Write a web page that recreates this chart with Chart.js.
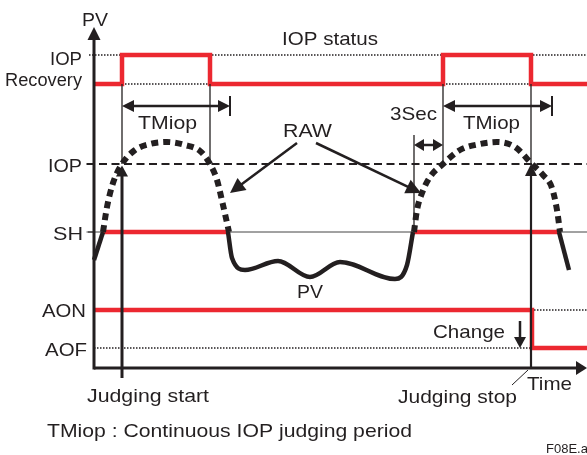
<!DOCTYPE html>
<html><head><meta charset="utf-8">
<script src="https://cdn.jsdelivr.net/npm/chart.js@4/dist/chart.umd.min.js"></script>
<style>html,body{margin:0;padding:0;background:#fff;overflow:hidden}canvas{display:block}</style>
</head><body>
<canvas id="c" width="587" height="455"></canvas>
<script>
// ---- levels (PV axis units) ----
const AOF = 4, AON = 11.6, SH = 27.2, IOP = 40.8, REC = 56.8, IOPH = 62.6;
const levelLabels = ['IOP', 'Recovery', 'IOP', 'SH', 'AON', 'AOF'];
// ---- time marks ----
const judgeStart = 5.6, iopFall1 = 23.2, tmiopEnd1 = 27.2;
const rawStart2 = 64, judgeRise2 = 69.8, judgeStop = 87.4, tmiopEnd2 = 91.6, tEnd = 98.6;
// ---- IOP status (red step) ----
const statusX = [0, 5.6, 5.6, 23.2, 23.2, 69.8, 69.8, 87.4, 87.4, 98.6];
const statusY = [REC, REC, IOPH, IOPH, REC, REC, IOPH, IOPH, REC, REC];
// ---- RAW curves (dotted) ----
const rawAX = [1.8, 2.6, 3.8, 5.6, 8.2, 11.2, 14.6, 18.2, 21.2, 23.2, 24.6, 25.8, 27];
const rawAY = [27.2, 32.2, 37, 40.8, 43.6, 44.8, 45.2, 44.6, 43.4, 40.8, 37.6, 32.6, 27.2];
const rawBX = [64, 64.6, 65.6, 67.2, 69.8, 73.2, 77.2, 80.6, 84.2, 87.6, 89.8, 91.6, 92.6, 93.2];
const rawBY = [27.2, 31.6, 35, 38.2, 40.8, 43.6, 44.8, 45.2, 44.2, 40.8, 38.6, 36, 31.6, 27.2];
// ---- PV curves (solid) ----
const pvAX = [0, 1.8], pvAY = [21.6, 27.2];
const pvBX = [26.8, 27.6, 30.2, 36.8, 43.2, 49.2, 60.2, 62.6, 63.8];
const pvBY = [27.2, 22, 19.6, 21.4, 18.2, 21.2, 17.8, 20.6, 27.2];
const pvCX = [93, 95], pvCY = [27.2, 19.6];
// ---- SH hold (red) ----
const shHoldA = [1.8, 27], shHoldB = [64, 93];
// ---- alarm (red) ----
const alarmX = [0, 87.6, 87.6, 98.6];
const alarmY = [AON, AON, AOF, AOF];

const RED = '#ec2830', BLK = '#231f20';
const pts = (xs, ys) => xs.map((x, i) => ({x, y: ys[i]}));
const hline = (x1, x2, y) => [{x: x1, y}, {x: x2, y}];

function ds(data, o) {
  return Object.assign({data, showLine: true, pointRadius: 0, borderWidth: 1.5,
    borderColor: BLK, tension: 0, fill: false, clip: false}, o);
}

const datasets = [
  ds(hline(-1, tEnd, IOPH), {borderDash: [1.5, 1.5], borderWidth: 1.5, order: 20}),
  ds(hline(judgeStart, iopFall1, REC), {borderDash: [1.5, 1.5], borderWidth: 1.5, order: 20}),
  ds(hline(judgeRise2, judgeStop, REC), {borderDash: [1.5, 1.5], borderWidth: 1.5, order: 20}),
  ds(hline(-1.5, tEnd, IOP), {borderDash: [8, 4.5], borderWidth: 2, order: 20}),
  ds(hline(-1.5, tEnd, SH), {borderWidth: 1, borderColor: '#444', order: 20}),
  ds(hline(judgeStop, tEnd, AON), {borderDash: [1.5, 1.5], borderWidth: 1.5, order: 20}),
  ds(hline(0, judgeStop, AOF), {borderDash: [1.5, 1.5], borderWidth: 1.5, order: 20}),
  ds(pts(statusX, statusY), {borderColor: RED, borderWidth: 4.5, order: 5}),
  ds(hline(shHoldA[0], shHoldA[1], SH), {borderColor: RED, borderWidth: 4.5, order: 5}),
  ds(hline(shHoldB[0], shHoldB[1], SH), {borderColor: RED, borderWidth: 4.5, order: 5}),
  ds(pts(alarmX, alarmY), {borderColor: RED, borderWidth: 4.5, order: 5}),
  ds(pts(rawAX, rawAY), {borderDash: [7, 5], borderWidth: 6, cubicInterpolationMode: 'monotone', order: 3}),
  ds(pts(rawBX, rawBY), {borderDash: [7, 5], borderWidth: 6, cubicInterpolationMode: 'monotone', order: 3}),
  ds(pts(pvAX, pvAY), {borderWidth: 4.5, order: 3}),
  ds(pts(pvBX, pvBY), {borderWidth: 4.5, cubicInterpolationMode: 'monotone', order: 3}),
  ds(pts(pvCX, pvCY), {borderWidth: 4.5, order: 3}),
];

const overlay = {
  id: 'overlay',
  afterDatasetsDraw(chart) {
    const ctx = chart.ctx, sx = chart.scales.x, sy = chart.scales.y;
    const X = v => sx.getPixelForValue(v), Y = v => sy.getPixelForValue(v);
    ctx.save();
    ctx.strokeStyle = BLK; ctx.fillStyle = BLK; ctx.lineCap = 'butt';
    function seg(x1, y1, x2, y2, w) {
      ctx.lineWidth = w; ctx.beginPath(); ctx.moveTo(x1, y1); ctx.lineTo(x2, y2); ctx.stroke();
    }
    function head(tx, ty, fx, fy, len, half) {
      const a = Math.atan2(ty - fy, tx - fx);
      const bx = tx - len * Math.cos(a), by = ty - len * Math.sin(a);
      ctx.beginPath(); ctx.moveTo(tx, ty);
      ctx.lineTo(bx + half * Math.sin(a), by - half * Math.cos(a));
      ctx.lineTo(bx - half * Math.sin(a), by + half * Math.cos(a));
      ctx.closePath(); ctx.fill();
    }
    function arrow(x1, y1, x2, y2, w, len, half, both) {
      const a = Math.atan2(y2 - y1, x2 - x1);
      const s1 = both ? len * 0.8 : 0;
      seg(x1 + s1 * Math.cos(a), y1 + s1 * Math.sin(a), x2 - len * 0.8 * Math.cos(a), y2 - len * 0.8 * Math.sin(a), w);
      head(x2, y2, x1, y1, len, half);
      if (both) head(x1, y1, x2, y2, len, half);
    }
    // axes
    seg(X(0), Y(0) + 1.5, X(0), Y(66), 3);
    head(X(0), Y(68.2), X(0), Y(0), 13, 6.5);
    seg(X(0), Y(0), X(96.5), Y(0), 3);
    head(X(tEnd), Y(0), X(0), Y(0), 11, 7);
    // thin verticals
    seg(X(judgeStart), Y(REC), X(judgeStart), Y(IOP), 1.3);
    seg(X(iopFall1), Y(REC), X(iopFall1), Y(IOP), 1.3);
    seg(X(judgeRise2), Y(REC), X(judgeRise2), Y(IOP), 1.3);
    seg(X(rawStart2), Y(46.6), X(rawStart2), Y(SH), 1.3);
    seg(X(judgeStop), Y(REC), X(judgeStop), Y(IOP), 1.3);
    // judging start / stop arrows
    arrow(X(judgeStart), Y(-2), X(judgeStart), Y(40.5), 3, 11, 6, false);
    arrow(X(judgeStop), Y(0), X(judgeStop), Y(40.8), 2.2, 12, 6, false);
    // TMiop arrows
    arrow(X(judgeStart), Y(52.4), X(tmiopEnd1), Y(52.4), 2.5, 12, 6, true);
    seg(X(tmiopEnd1), Y(54.4), X(tmiopEnd1), Y(50.4), 2);
    arrow(X(judgeRise2), Y(52.4), X(tmiopEnd2), Y(52.4), 2.5, 12, 6, true);
    seg(X(tmiopEnd2), Y(54.4), X(tmiopEnd2), Y(50.4), 2);
    // 3Sec arrow
    arrow(X(rawStart2), Y(44.6), X(judgeRise2), Y(44.6), 2.5, 10, 6, true);
    // RAW arrows
    arrow(X(40.6), Y(45), X(27.2), Y(35), 2.5, 15, 7.5, false);
    arrow(X(44.4), Y(45), X(65.4), Y(35), 2.5, 15, 7.5, false);
    // Change arrow
    arrow(X(85.2), Y(9.4), X(85.2), Y(4), 2.5, 11, 6, false);
    // leader for Judging stop
    seg(X(83.6), Y(-3.4), X(86.8), Y(-0.4), 1);
    // SH tick
    seg(X(-1.2), Y(SH), X(0), Y(SH), 1);

    // texts
    function txt(str, left, right, base, size) {
      ctx.font = size + 'px "Liberation Sans", Arial, sans-serif';
      const w = ctx.measureText(str).width;
      let s = right ? (right - left) / w : 1;
      s = Math.max(0.85, Math.min(1.2, s));
      ctx.save(); ctx.translate(left, base); ctx.scale(s, 1);
      ctx.textAlign = 'left'; ctx.textBaseline = 'alphabetic';
      ctx.fillText(str, 0, 0); ctx.restore();
    }
    ctx.fillStyle = BLK;
    txt('PV', 82, 108, 26, 19);
    txt(levelLabels[0], 50, 82, 65, 18);
    txt(levelLabels[1], 5, 82, 86, 18);
    txt(levelLabels[2], 48, 82, 172, 18);
    txt(levelLabels[3], 53, 83, 240, 18);
    txt(levelLabels[4], 42, 86, 317, 18);
    txt(levelLabels[5], 45, 87, 356, 18);
    txt('IOP status', 282, 378, 45, 19);
    txt('TMiop', 138, 197, 129, 19);
    txt('RAW', 283, 332, 137, 19);
    txt('3Sec', 390, 437, 120, 19);
    txt('TMiop', 463, 520, 129, 19);
    txt('PV', 297, 323, 298, 19);
    txt('Change', 433, 505, 338, 19);
    txt('Time', 527, 572, 390, 19);
    txt('Judging start', 87, 209, 402, 19);
    txt('Judging stop', 398, 517, 403, 19);
    txt('TMiop : Continuous IOP judging period', 47, 412, 437, 19);
    txt('F08E.ai', 546, 0, 453, 13);
    ctx.restore();
  }
};

new Chart(document.getElementById('c'), {
  type: 'scatter',
  data: {datasets},
  options: {
    responsive: false, animation: false, devicePixelRatio: 1,
    layout: {padding: 0},
    plugins: {legend: {display: false}, tooltip: {enabled: false}},
    scales: {
      x: {type: 'linear', display: false, min: -18.8, max: 98.6},
      y: {type: 'linear', display: false, min: -17.4, max: 73.6}
    }
  },
  plugins: [overlay]
});
</script>
</body></html>
